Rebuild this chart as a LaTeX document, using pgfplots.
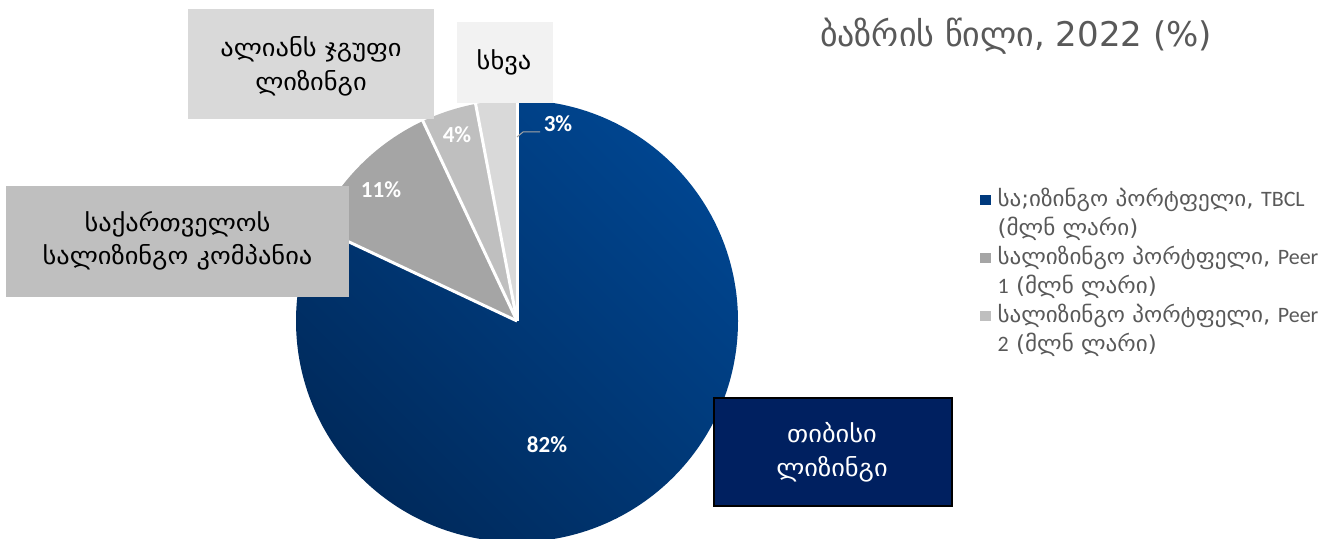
\documentclass[border=0pt]{standalone}
\usepackage{pgfplots}
\pgfplotsset{compat=1.18}
\usepackage{pgfplotstable}
\usepackage{fontspec}
\setmainfont{DejaVu Sans}
\newfontfamily\pctfont{Carlito}
\newfontfamily\geo[FakeStretch=1.1]{DejaVu Sans}
\newfontfamily\geoL[FakeStretch=1.05]{DejaVu Sans}
\definecolor{blueTop}{HTML}{00458F}
\definecolor{blueBot}{HTML}{002A5C}
\definecolor{pieA}{HTML}{003A7D}
\definecolor{pieB}{HTML}{A5A5A5}
\definecolor{pieC}{HTML}{BFBFBF}
\definecolor{pieD}{HTML}{D9D9D9}
\definecolor{boxAll}{HTML}{D9D9D9}
\definecolor{boxOth}{HTML}{F2F2F2}
\definecolor{boxGeo}{HTML}{BFBFBF}
\definecolor{boxTbc}{HTML}{002060}
\definecolor{txtgrey}{HTML}{595959}
\definecolor{leadgrey}{HTML}{A6A6A6}
\begin{document}
\begin{tikzpicture}
\pgfplotstableread{
share
82
11
4
3
}\piedata
\pgfplotstablegetelem{0}{share}\of\piedata \let\vA\pgfplotsretval
\pgfplotstablegetelem{1}{share}\of\piedata \let\vB\pgfplotsretval
\pgfplotstablegetelem{2}{share}\of\piedata \let\vC\pgfplotsretval
\pgfplotstablegetelem{3}{share}\of\piedata \let\vD\pgfplotsretval
\pgfmathsetmacro\aA{90-3.6*\vA}
\pgfmathsetmacro\aB{\aA-3.6*\vB}
\pgfmathsetmacro\aC{\aB-3.6*\vC}
\pgfmathsetmacro\aD{\aC-3.6*\vD}
\path[use as bounding box] (0,0) rectangle (1322pt,538pt);
\begin{axis}[at={(0,0)},anchor=south west,
  width=1322pt,height=538pt,scale only axis,
  xmin=0,xmax=1322,ymin=0,ymax=538,hide axis,clip=true,
  legend style={at={(axis cs:980,352)},anchor=north west,draw=none,fill=none,
    inner sep=0pt,font=\geoL\fontsize{22}{29}\selectfont,text=txtgrey,
    cells={anchor=base west},nodes={inner sep=0pt,text depth=},
    column sep=7.5pt,row sep=0pt},
  legend image code/.code={\fill[#1] (0pt,2pt) rectangle (9.5pt,11pt);},
]
\addlegendimage{pieA}
\addlegendentry{\begin{tabular}[t]{@{}l@{}}სა;იზინგო პორტფელი, {\pctfont TBCL}\\(მლნ ლარი)\end{tabular}}
\addlegendimage{pieB}
\addlegendentry{\begin{tabular}[t]{@{}l@{}}სალიზინგო პორტფელი, {\pctfont Peer}\\{\pctfont 1} (მლნ ლარი)\end{tabular}}
\addlegendimage{pieC}
\addlegendentry{\begin{tabular}[t]{@{}l@{}}სალიზინგო პორტფელი, {\pctfont Peer}\\{\pctfont 2} (მლნ ლარი)\end{tabular}}
% pie slices
\shade[top color=blueTop,bottom color=blueBot,shading angle=-45]
  (axis cs:517,217) -- ++(90:221pt) arc[start angle=90,end angle=\aA,radius=221pt] -- cycle;
\fill[pieB] (axis cs:517,217) -- ++(\aA:221pt) arc[start angle=\aA,end angle=\aB,radius=221pt] -- cycle;
\fill[pieC] (axis cs:517,217) -- ++(\aB:221pt) arc[start angle=\aB,end angle=\aC,radius=221pt] -- cycle;
\fill[pieD] (axis cs:517,217) -- ++(\aC:221pt) arc[start angle=\aC,end angle=\aD,radius=221pt] -- cycle;
\draw[white,line width=3pt] (axis cs:517,217) -- ++(90:222pt);
\draw[white,line width=3pt] (axis cs:517,217) -- ++(\aA:222pt);
\draw[white,line width=3pt] (axis cs:517,217) -- ++(\aB:222pt);
\draw[white,line width=3pt] (axis cs:517,217) -- ++(\aC:222pt);
% percentage labels
\draw[leadgrey,line width=1pt] (axis cs:517,401) -- (axis cs:523,406) -- (axis cs:540,406);
\begin{scope}[every node/.style={font=\pctfont\bfseries\fontsize{23}{26}\selectfont,text=white}]
\node at (axis cs:547,93) {82\%};
\node at (axis cs:381,348) {11\%};
\node at (axis cs:457,403) {4\%};
\node at (axis cs:558,414) {3\%};
\end{scope}
% callout boxes
\node[fill=boxAll,minimum width=246pt,minimum height=110pt,inner sep=0pt] at (axis cs:311,474) {};
\node[fill=boxOth,minimum width=96pt,minimum height=81pt,inner sep=0pt] at (axis cs:505,475.5) {};
\node[fill=boxGeo,minimum width=343pt,minimum height=111pt,inner sep=0pt] at (axis cs:177.5,296.5) {};
\node[fill=boxTbc,draw=black,line width=2.5pt,minimum width=238pt,minimum height=108pt,inner sep=0pt] at (axis cs:833,86) {};
% callout texts
\begin{scope}[every node/.style={anchor=base,inner sep=0pt,font=\geo\fontsize{24}{30}\selectfont}]
\node at (axis cs:311,481) {ალიანს ჯგუფი};
\node at (axis cs:311,447) {ლიზინგი};
\node at (axis cs:504,468) {სხვა};
\node at (axis cs:177.5,306) {საქართველოს};
\node at (axis cs:177.5,273) {სალიზინგო კომპანია};
\node[text=white] at (axis cs:832,95) {თიბისი};
\node[text=white] at (axis cs:832,61) {ლიზინგი};
\end{scope}
% title
\node[anchor=base,font=\fontsize{34}{40}\selectfont,text=txtgrey] at (axis cs:1016,491) {ბაზრის წილი, 2022 (\%)};
\end{axis}
\end{tikzpicture}
\end{document}
